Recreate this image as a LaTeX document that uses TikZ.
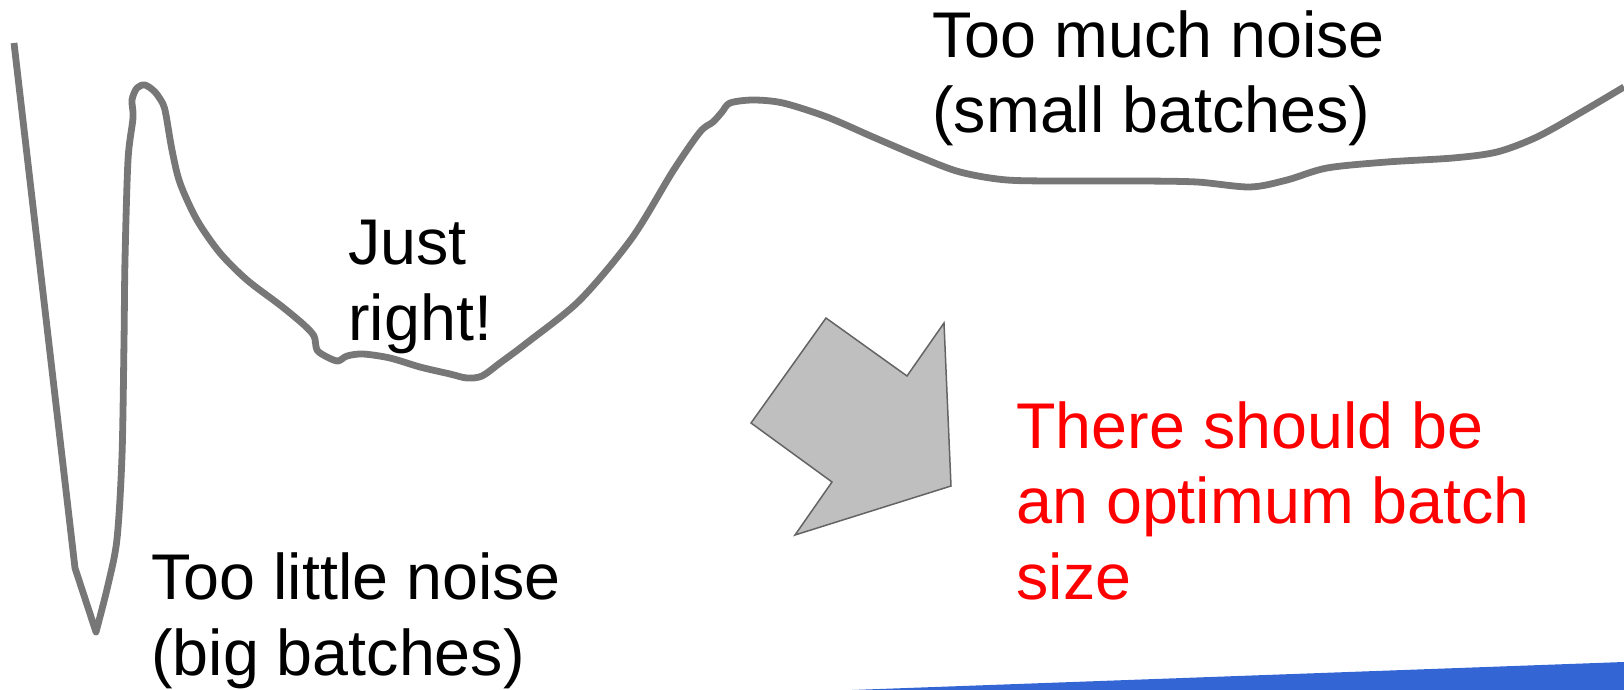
\documentclass[tikz,border=0pt]{standalone}
\usepackage{fontspec}
\setmainfont{Liberation Sans}
\definecolor{CurveGray}{RGB}{119,119,119}
\definecolor{ArrowFill}{RGB}{191,191,191}
\definecolor{ArrowLine}{RGB}{100,100,100}
\definecolor{BarBlue}{RGB}{51,102,212}
\definecolor{NoteRed}{RGB}{255,0,0}
\begin{document}
\begin{tikzpicture}[x=0.5pt,y=-0.5pt,
  curve/.style={CurveGray,line width=3.4pt,line join=round},
  note/.style={anchor=base west,inner sep=0pt,align=left,font=\fontsize{32.3}{37.6}\selectfont}]
\useasboundingbox (0,0) rectangle (1624,690);

% blue strip in the corner
\fill[BarBlue](852,690)--(1624,662)--(1624,690)--cycle;

% noise curve: steep drop, spike, valley, plateau
\draw[curve](14,43)--(75,568)--(96,632)--plot[smooth,tension=0.5]coordinates{
  (96,632)(108,585)(117,539)(122,456)(124,342)(125,260)(128,160)(133,118)(132,100)
  (137,88)(145,85)(155,92)(163,104)(166,115)(172,150)(180,183)(197,220)(220,253)
  (247,280)(280,305)(303,324)(314,336)(317,350)(327,357)(338,361)(347,356)(363,354)
  (390,358)(420,367)(450,374)(467,378)(482,376)(500,363)(528,342)(580,300)(632,238)
  (673,171)(700,132)(713,122)(722,112)(730,103)(753,100)(783,103)(827,117)(873,137)
  (920,157)(960,172)(1007,180)(1073,181)(1140,181)(1197,182)(1250,187)(1287,180)
  (1327,168)(1387,162)(1453,158)(1497,152)(1537,137)(1580,113)(1624,87)};

% big arrow pointing down-right
\draw[fill=ArrowFill,draw=ArrowLine,line width=0.75pt,line join=miter]
  (826,318)--(907,376)--(944,323)--(951,486)--(795,535)--(832,482)--(751,423)--cycle;

% labels (placed at the baseline of their last line)
\node[note](much)at(932,133){Too much noise\\(small batches)};
\node[note](just)at(348,340){Just\\right!};
\node[note](little)at(151,675){Too little noise\\(big batches)};
\node[note,NoteRed](optimum)at(1016,599){There should be\\an optimum batch\\size};
\end{tikzpicture}
\end{document}
